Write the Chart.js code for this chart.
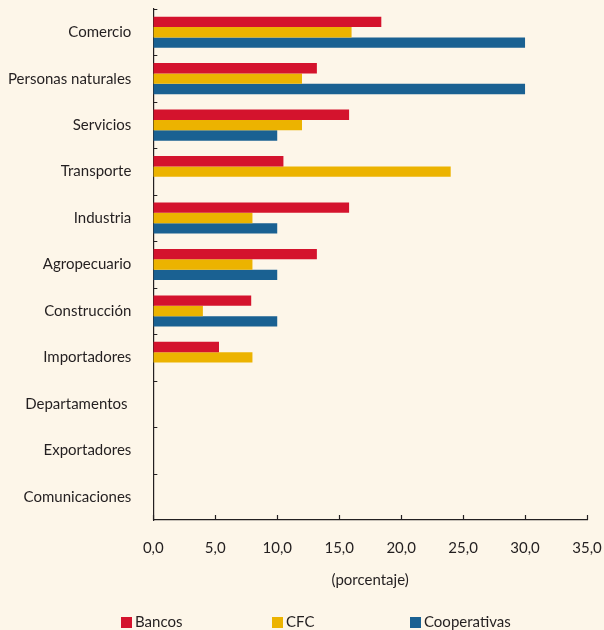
<!DOCTYPE html>
<html>
<head>
<meta charset="utf-8">
<script src="https://cdn.jsdelivr.net/npm/chart.js@4"></script>
<style>
  html, body { margin: 0; padding: 0; background: #fdf6e9; }
  #wrap { width: 604px; height: 630px; position: relative; }
</style>
</head>
<body>
<div id="wrap"><canvas id="grafico"></canvas></div>
<script>
// Datos (porcentaje) >>>>>>>>>>>>>>>>>>>>>>>>>>>>>>>>>>>>>>>>>>>>>>>>>>>>
const categorias = [
    "Comercio", "Personas naturales", "Servicios", "Transporte", "Industria",
    "Agropecuario", "Construcción", "Importadores", "Departamentos ",
    "Exportadores", "Comunicaciones"
];
const bancos = [18.4, 13.2, 15.8, 10.5, 15.8, 13.2, 7.9, 5.3, 0, 0, 0];
const cfc = [16.0, 12.0, 12.0, 24.0, 8.0, 8.0, 4.0, 8.0, 0, 0, 0];
const cooperativas = [30.0, 30.0, 10.0, 0, 10.0, 10.0, 10.0, 0, 0, 0, 0];

const FONT = "Lato, 'Open Sans', sans-serif";
const TEXTO = "#231f20";

// quitar el relleno automático de los ejes, lo pongo a mano en layout
const sinRelleno = (scale) => {
    scale.paddingLeft = 0;
    scale.paddingRight = 0;
    scale.paddingTop = 0;
    scale.paddingBottom = 0;
};

// marcas hacia dentro del área (como en el original)
const marcasInternas = {
    id: "marcasInternas",
    afterDraw(chart) {
        const { ctx, scales: { x, y } } = chart;
        ctx.save();
        ctx.strokeStyle = "#231f20";
        ctx.lineWidth = 1.2;
        ctx.beginPath();
        x.ticks.forEach((t, i) => {
            const px = Math.round(x.getPixelForTick(i)) + 0.5;
            ctx.moveTo(px, y.bottom);
            ctx.lineTo(px, y.bottom - 5);
        });
        const n = categorias.length;
        const paso = (y.bottom - y.top) / n;
        for (let i = 0; i < n; i++) {
            const py = Math.round(y.top + i * paso) + 0.5;
            ctx.moveTo(x.left, py);
            ctx.lineTo(x.left + 4, py);
        }
        ctx.stroke();
        ctx.restore();
    },
};

// leyenda propia abajo (cuadrito + texto, muy separados)
const leyendaPosX = [121, 272, 410];
const leyenda = {
    id: "leyenda",
    afterDraw(chart) {
        const { ctx } = chart;
        ctx.save();
        ctx.font = `15px ${FONT}`;
        ctx.textBaseline = "middle";
        chart.data.datasets.forEach((ds, i) => {
            const x0 = leyendaPosX[i];
            ctx.fillStyle = ds.backgroundColor;
            ctx.fillRect(x0, 617, 11, 11);
            ctx.fillStyle = TEXTO;
            ctx.fillText(ds.label, x0 + 14, 622);
        });
        ctx.restore();
    },
};

const ctx = document.getElementById("grafico").getContext("2d");
new Chart(ctx, {
    type: "bar",
    data: {
        labels: categorias,
        datasets: [
            { label: "Bancos", data: bancos, backgroundColor: "#d4132d" },
            { label: "CFC", data: cfc, backgroundColor: "#ecb300" },
            { label: "Cooperativas", data: cooperativas, backgroundColor: "#1a6192" },
        ],
    },
    options: {
        indexAxis: "y",
        responsive: true,
        maintainAspectRatio: false,
        animation: false,
        categoryPercentage: 0.67,
        barPercentage: 1.0,
        layout: { padding: { top: 9, left: -14, right: 17, bottom: 40 } },
        scales: {
            x: {
                min: 0,
                max: 35,
                afterFit: sinRelleno,
                grid: { display: false, drawTicks: false, tickLength: 0 },
                border: { display: true, color: "#231f20", width: 1.2 },
                ticks: {
                    stepSize: 5,
                    padding: 19,
                    color: TEXTO,
                    font: { family: FONT, size: 15 },
                    callback: (v) => v.toFixed(1).replace(".", ","),
                },
                title: {
                    display: true,
                    text: "(porcentaje)",
                    color: TEXTO,
                    font: { family: FONT, size: 15 },
                    padding: { top: -5, bottom: 1 },
                },
            },
            y: {
                afterFit: sinRelleno,
                grid: { display: false, drawTicks: false, tickLength: 0 },
                border: { display: true, color: "#231f20", width: 1.2 },
                ticks: {
                    padding: 22,
                    color: TEXTO,
                    font: { family: FONT, size: 15 },
                },
            },
        },
        plugins: {
            legend: { display: false },
            tooltip: { enabled: false },
        },
    },
    plugins: [marcasInternas, leyenda],
});
</script>
</body>
</html>
